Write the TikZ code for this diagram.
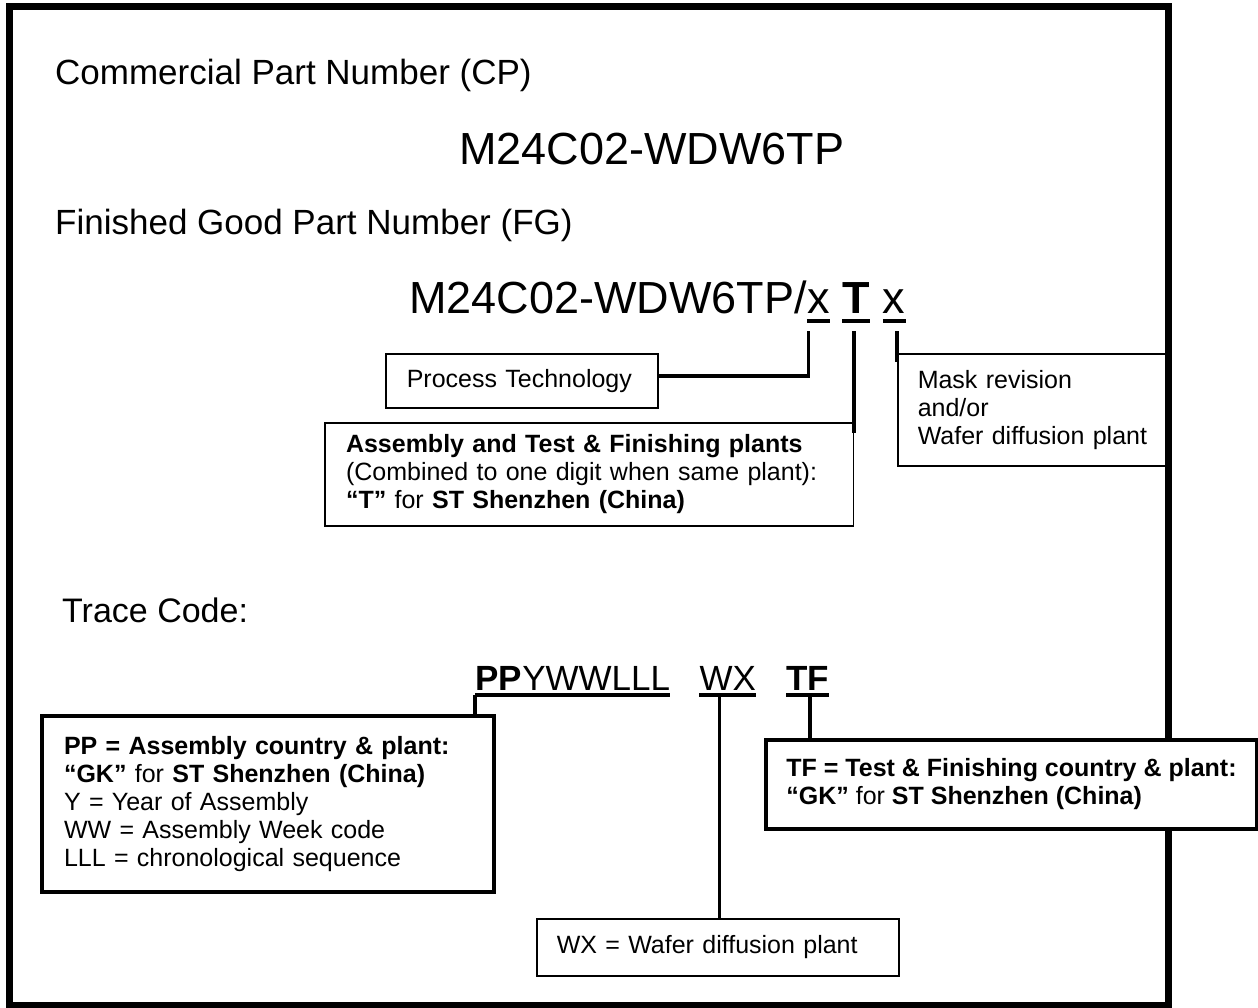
\documentclass[tikz,border=0pt]{standalone}
\usepackage{fontspec}
\setmainfont{Liberation Sans}
\usepackage{tikz}
\usetikzlibrary{positioning}
\newcommand{\headfont}{\fontsize{35}{42}\selectfont}
\newcommand{\numfont}{\fontsize{45}{54}\selectfont}
\newcommand{\boxfont}{\fontsize{25}{28}\selectfont}

\begin{document}
\begin{tikzpicture}[x=1pt,y=-1pt,
 heading/.style={font=\headfont,anchor=base west,inner sep=0pt},
 partnum/.style={font=\numfont,anchor=base west,inner sep=0pt},
 box/.style={draw,line width=1.5pt,anchor=north west,align=left,font=\boxfont,inner ysep=0pt},
 heavybox/.style={box,line width=4pt},
 uline/.style={line width=3.5pt},
 conn/.style={line width=3.5pt}]
\useasboundingbox (0,0) rectangle (1258,1008);
\draw[line width=7pt] (9.5,6.5) rectangle (1168,1005);
\node[heading] (cphead) at (55,85) {Commercial Part Number (CP)};
\node[partnum] (cpnum) at (459,165) {M24C02-WDW6TP};
\node[heading] (fghead) at (55,235) {Finished Good Part Number (FG)};
\node[partnum] (fgnum) at (409,313) {M24C02-WDW6TP/};
\node[partnum,base right=0pt of fgnum] (fgproc) {x};
\node[partnum,font=\numfont\bfseries,base right=12.5pt of fgproc] (fgplant) {T};
\node[partnum,base right=12.5pt of fgplant] (fgmask) {x};
\foreach \n in {fgproc,fgplant,fgmask}
  \draw[uline] ([yshift=-8pt]\n.base west) -- ([yshift=-8pt]\n.base east);
\node[box,minimum width=272pt,minimum height=54pt,inner xsep=21pt,text width=230pt] (proc) at (385,353) {Process Technology};
\node[box,minimum width=271pt,minimum height=112pt,inner xsep=20pt,text width=231pt] (mask) at (897,353) {Mask revision\\and/or\\Wafer diffusion plant};
\node[box,minimum width=528.5pt,minimum height=103pt,inner xsep=21pt,text width=486pt] (plant) at (324,422) {\textbf{Assembly and Test \& Finishing plants}\\(Combined to one digit when same plant):\\\textbf{“T”} for \textbf{ST Shenzhen (China)}};
\coordinate (procdrop) at ([xshift=1.5pt,yshift=-18pt]fgproc.base west);
\coordinate (plantdrop) at ([xshift=-2.5pt,yshift=-18pt]fgplant.base);
\coordinate (maskdrop) at ([yshift=-18pt]fgmask.base);
\draw[conn] (procdrop) |- ([yshift=5pt]proc.east);
\draw[conn] (plantdrop) -- (plantdrop |- plant.north) -- ++(0,11);
\draw[conn] (maskdrop -| mask.west) -- (mask.north west) -- ++(0,9);
\node[heading,font=\fontsize{34}{40}\selectfont] (tracehead) at (62,622) {Trace Code:};
\node[heading,font=\headfont\bfseries] (trpp) at (475,690) {PP};
\node[heading,base right=0pt of trpp] (trdate) {YWWLLL};
\node[heading,base right=29pt of trdate] (trwx) {WX};
\node[heading,font=\headfont\bfseries,base right=30pt of trwx] (trtf) {TF};
\draw[uline] ([yshift=-5pt]trpp.base west) -- ([yshift=-5pt]trdate.base east);
\draw[uline] ([yshift=-5pt]trwx.base west) -- ([yshift=-5pt]trwx.base east);
\draw[uline] ([yshift=-5pt]trtf.base west) -- ([yshift=-5pt]trtf.base east);
\node[heavybox,minimum width=452pt,minimum height=175.5pt,inner xsep=22pt,text width=408pt] (ppbox) at (40,714) {\textbf{PP = Assembly country \& plant:}\\\textbf{“GK”} for \textbf{ST Shenzhen (China)}\\Y = Year of Assembly\\WW = Assembly Week code\\LLL = chronological sequence};
\node[heavybox,fill=white,minimum width=491pt,minimum height=89pt,inner xsep=18pt] (tfbox) at (764,738) {\textbf{TF = Test \& Finishing country \& plant:}\\\textbf{“GK”} for \textbf{ST Shenzhen (China)}};
\node[box,minimum width=362pt,minimum height=57pt,inner xsep=20pt,text width=322pt] (wxbox) at (536,918) {WX = Wafer diffusion plant};
\coordinate (ppdrop) at ([yshift=-5pt]trpp.base west);
\coordinate (wxdrop) at ([xshift=20pt,yshift=-5pt]trwx.base west);
\coordinate (tfdrop) at ([xshift=24pt,yshift=-5pt]trtf.base west);
\draw[conn] (ppdrop) -- (ppdrop |- ppbox.north);
\draw[conn] (wxdrop) -- (wxdrop |- wxbox.north);
\draw[conn] (tfdrop) -- (tfdrop |- tfbox.north);
\end{tikzpicture}
\end{document}
